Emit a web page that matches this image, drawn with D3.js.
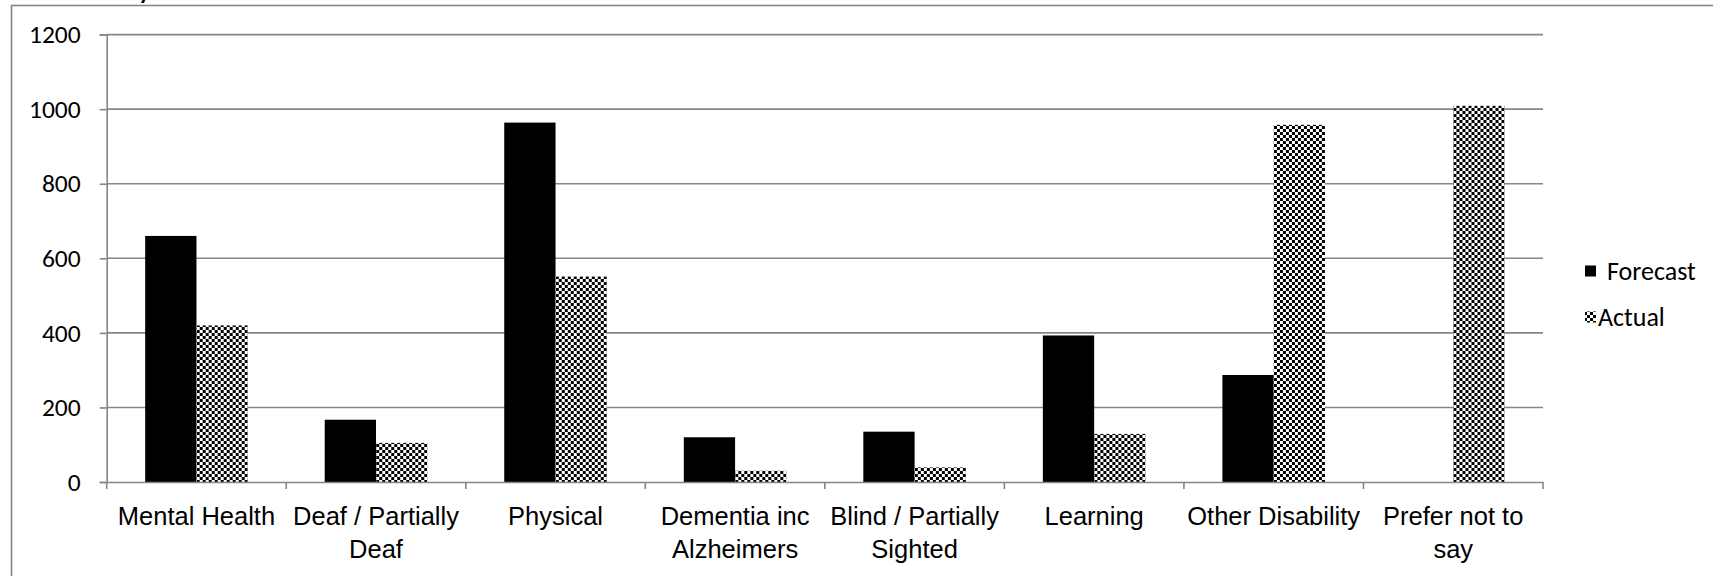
<!DOCTYPE html>
<html>
<head>
<meta charset="utf-8">
<script src="https://cdn.jsdelivr.net/npm/d3@7"></script>
<style>
  html, body { margin: 0; padding: 0; background: #fff; overflow: hidden; }
  svg { display: block; font-family: Carlito, Calibri, Lato, sans-serif; }
</style>
</head>
<body>
<div id="chart"></div>
<script>
// Data
const categories = ['Mental Health', 'Deaf / Partially Deaf', 'Physical', 'Dementia inc Alzheimers',
  'Blind / Partially Sighted', 'Learning', 'Other Disability', 'Prefer not to say'];
const categoryLines = [
  ['Mental Health'], ['Deaf / Partially', 'Deaf'], ['Physical'], ['Dementia inc', 'Alzheimers'],
  ['Blind / Partially', 'Sighted'], ['Learning'], ['Other Disability'], ['Prefer not to', 'say']
];
const seriesNames = ['Forecast', 'Actual'];
const forecast = [660, 167, 964, 120, 135, 393, 287, 0];
const actual = [420, 105, 551, 30, 39, 129, 958, 1009];
const yTicks = [0, 200, 400, 600, 800, 1000, 1200];

const W = 1713, H = 576;
const plot = { left: 106.7, right: 1543, top: 34.6, bottom: 482 };
const gridColor = '#868686';
const fontSize = '25.5px';

const svg = d3.select('#chart').append('svg')
  .attr('width', W)
  .attr('height', H);

// checker pattern for the Actual series
const defs = svg.append('defs');
const pat = defs.append('pattern')
  .attr('id', 'checker')
  .attr('patternUnits', 'userSpaceOnUse')
  .attr('width', 6)
  .attr('height', 6);
pat.append('rect').attr('width', 6).attr('height', 6).attr('fill', '#fff');
pat.append('rect').attr('x', 0).attr('y', 0).attr('width', 3).attr('height', 3).attr('fill', '#000');
pat.append('rect').attr('x', 3).attr('y', 3).attr('width', 3).attr('height', 3).attr('fill', '#000');

// outer chart frame (cropped on right and bottom)
svg.append('rect')
  .attr('x', 11.5)
  .attr('y', 5.5)
  .attr('width', W + 20)
  .attr('height', H + 20)
  .attr('fill', 'none')
  .attr('stroke', gridColor)
  .attr('stroke-width', 1.6);

// cut-off title above the frame
svg.append('text')
  .attr('x', 150)
  .attr('y', -1)
  .attr('text-anchor', 'end')
  .attr('font-size', '24px')
  .attr('font-weight', 'bold')
  .attr('fill', '#000')
  .text('Disability');

// Scales
const x = d3.scaleBand().domain(categories).range([plot.left, plot.right]).paddingInner(0).paddingOuter(0);
const xs = d3.scaleBand().domain(seriesNames).range([0, x.bandwidth()]).paddingInner(0).paddingOuter(0.75);
const y = d3.scaleLinear().domain([0, 1200]).range([plot.bottom, plot.top]);

// Gridlines
svg.append('g')
  .selectAll('line')
  .data(yTicks.filter(d => d > 0))
  .join('line')
  .attr('x1', plot.left)
  .attr('x2', plot.right)
  .attr('y1', d => y(d))
  .attr('y2', d => y(d))
  .attr('stroke', gridColor)
  .attr('stroke-width', 1.6);

// Bars
const data = categories.map((c, i) => ({ cat: c, values: [forecast[i], actual[i]] }));
const groups = svg.append('g')
  .selectAll('g')
  .data(data)
  .join('g')
  .attr('transform', d => 'translate(' + x(d.cat) + ',0)');
groups.selectAll('rect')
  .data(d => d.values.map((v, j) => ({ key: seriesNames[j], value: v })))
  .join('rect')
  .attr('x', d => xs(d.key))
  .attr('width', xs.bandwidth())
  .attr('y', d => y(d.value))
  .attr('height', d => y(0) - y(d.value))
  .attr('fill', d => (d.key === 'Forecast' ? '#000' : 'url(#checker)'));

// Y axis
const yAxis = svg.append('g')
  .attr('transform', 'translate(' + plot.left + ',0)')
  .call(d3.axisLeft(y).tickValues(yTicks).tickSize(7).tickPadding(19).tickFormat(d3.format('d')));
yAxis.select('.domain').attr('stroke', gridColor).attr('stroke-width', 1.6);
yAxis.selectAll('.tick line').attr('stroke', gridColor).attr('stroke-width', 1.6);
yAxis.selectAll('.tick text')
  .attr('font-size', fontSize)
  .attr('font-family', 'Carlito, Calibri, Lato, sans-serif')
  .attr('fill', '#000');

// X axis
const xAxis = svg.append('g')
  .attr('transform', 'translate(0,' + plot.bottom + ')')
  .call(d3.axisBottom(x).tickSize(0).tickFormat(''));
xAxis.select('.domain').attr('stroke', gridColor).attr('stroke-width', 1.6);
xAxis.selectAll('.tick').remove();

// category separators
xAxis.append('g')
  .selectAll('line')
  .data(categories.concat(['end']))
  .join('line')
  .attr('x1', (d, i) => plot.left + i * x.step())
  .attr('x2', (d, i) => plot.left + i * x.step())
  .attr('y1', 0)
  .attr('y2', 7)
  .attr('stroke', gridColor)
  .attr('stroke-width', 1.6);

// category labels
xAxis.append('g')
  .selectAll('text')
  .data(categories)
  .join('text')
  .attr('x', d => x(d) + x.bandwidth() / 2)
  .attr('y', 43)
  .attr('text-anchor', 'middle')
  .attr('font-size', fontSize)
  .attr('fill', '#000')
  .each(function(d, i) {
    d3.select(this).selectAll('tspan')
      .data(categoryLines[i])
      .join('tspan')
      .attr('x', x(d) + x.bandwidth() / 2)
      .attr('dy', (l, k) => (k === 0 ? 0 : 33))
      .text(l => l);
  });

// Legend
const legend = svg.append('g');
const legendItems = [
  { name: 'Forecast', fill: '#000', y: 271, size: 11, textX: 1607 },
  { name: 'Actual', fill: 'url(#checker)', y: 317, size: 11, textX: 1598 }
];
legendItems.forEach(function(item) {
  legend.append('rect')
    .attr('x', 1585)
    .attr('y', item.y - item.size / 2)
    .attr('width', item.size)
    .attr('height', item.size)
    .attr('fill', item.fill);
  legend.append('text')
    .attr('x', item.textX)
    .attr('y', item.y)
    .attr('dy', '0.35em')
    .attr('font-size', '26px')
    .attr('fill', '#000')
    .text(item.name);
});
</script>
</body>
</html>
